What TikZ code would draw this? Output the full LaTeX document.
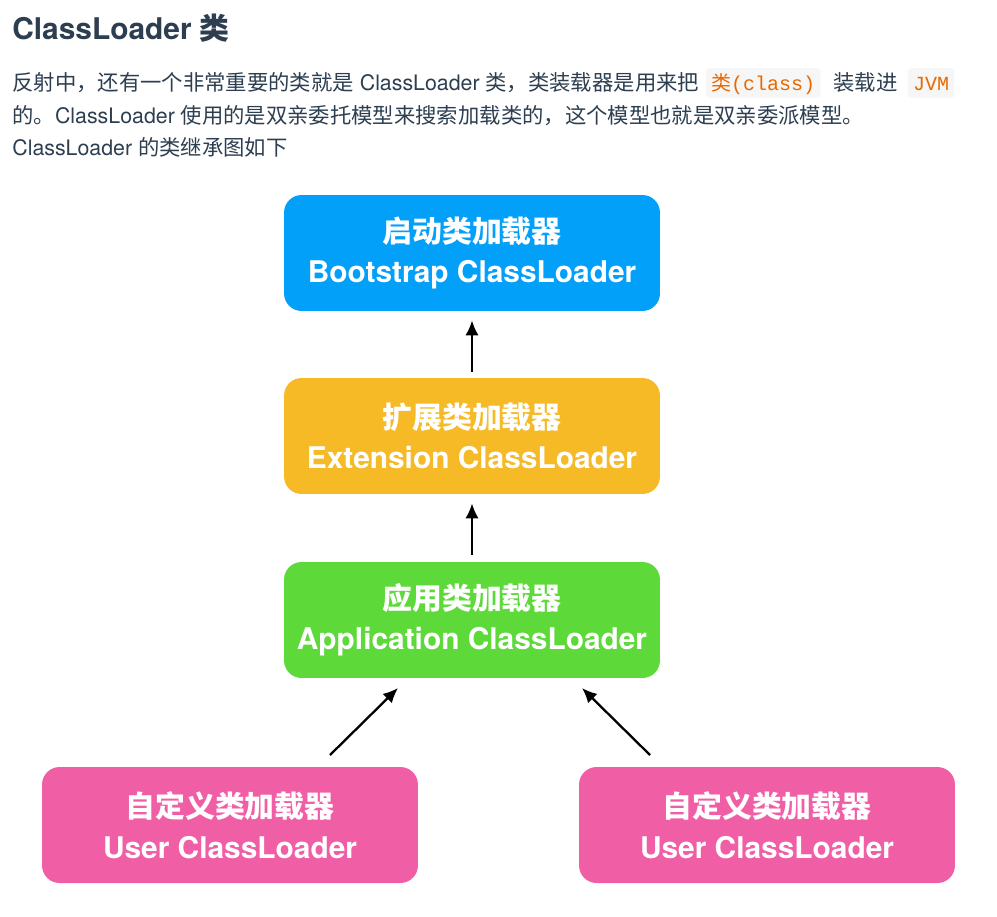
\documentclass[tikz,border=0pt]{standalone}
\usepackage{fontspec}
\setmainfont{TeX Gyre Heros}
\setmonofont{Liberation Mono}
\newfontfamily\cjk{Noto Sans CJK SC}
\usetikzlibrary{positioning,arrows.meta}
\definecolor{textgray}{HTML}{2C3E50}
\definecolor{codebg}{HTML}{F6F6F6}
\definecolor{codeorange}{HTML}{E96900}
\definecolor{bootblue}{HTML}{03A0F9}
\definecolor{extyellow}{HTML}{F6BA26}
\definecolor{appgreen}{HTML}{5ED93A}
\definecolor{userpink}{HTML}{F05FA6}
\begin{document}
\begin{tikzpicture}[x=0.02cm,y=-0.02cm,
  loader/.style={rounded corners=10pt, minimum width=7.52cm, minimum height=2.32cm, inner sep=0pt, align=center, text=white, font=\bfseries\fontsize{17}{23}\selectfont},
  para/.style={inner sep=0pt, text=textgray, font=\fontsize{12.15}{18}\selectfont},
  code/.style={fill=codebg, text=codeorange, rounded corners=2pt, inner xsep=3pt, inner ysep=0pt, text height=12.5pt, text depth=4.5pt, font=\ttfamily\fontsize{11.4}{14}\selectfont},
  link/.style={draw, line width=1.3pt, ->, >={Latex[length=8.5pt,width=7.5pt]}}]
\useasboundingbox (0,0) rectangle (997,916);

% heading and text
\node[anchor=base west, inner sep=0pt, text=textgray, font=\bfseries\fontsize{17}{20}\selectfont] (title) at (12,39) {ClassLoader {\cjk 类}};
\node[para, anchor=base west] (l1a) at (12,90) {{\cjk 反射中，还有一个非常重要的类就是} ClassLoader {\cjk 类，类装载器是用来把}};
\node[code, base right=3.4pt of l1a] (cls) {{\cjk 类}(class)};
\node[para, base right=7pt of cls] (l1b) {{\cjk 装载进}};
\node[code, base right=5.5pt of l1b] (jvm) {JVM};
\node[para, anchor=base west] (l2) at (12,123) {{\cjk 的。}ClassLoader {\cjk 使用的是双亲委托模型来搜索加载类的，这个模型也就是双亲委派模型。}};
\node[para, anchor=base west] (l3) at (12,155) {ClassLoader {\cjk 的类继承图如下}};

% loaders
\node[loader, fill=bootblue] (boot) at (472,253) {{\cjk 启动类加载器}\\Bootstrap ClassLoader};
\node[loader, fill=extyellow] (ext) at (472,436) {{\cjk 扩展类加载器}\\Extension ClassLoader};
\node[loader, fill=appgreen] (app) at (472,620) {{\cjk 应用类加载器}\\Application ClassLoader};
\node[loader, fill=userpink] (user1) at (230,825) {{\cjk 自定义类加载器}\\User ClassLoader};
\node[loader, fill=userpink] (user2) at (767,825) {{\cjk 自定义类加载器}\\User ClassLoader};

\coordinate (u1tail) at (330,755);
\coordinate (u1head) at (398,688);
\coordinate (u2tail) at (650,755);
\coordinate (u2head) at (582,688);

\path[link, shorten <=0.12cm, shorten >=0.18cm] (ext) -- (boot);
\path[link, shorten <=0.14cm, shorten >=0.18cm] (app) -- (ext);
\path[link] (u1tail) -- (u1head);
\path[link] (u2tail) -- (u2head);
\end{tikzpicture}
\end{document}
